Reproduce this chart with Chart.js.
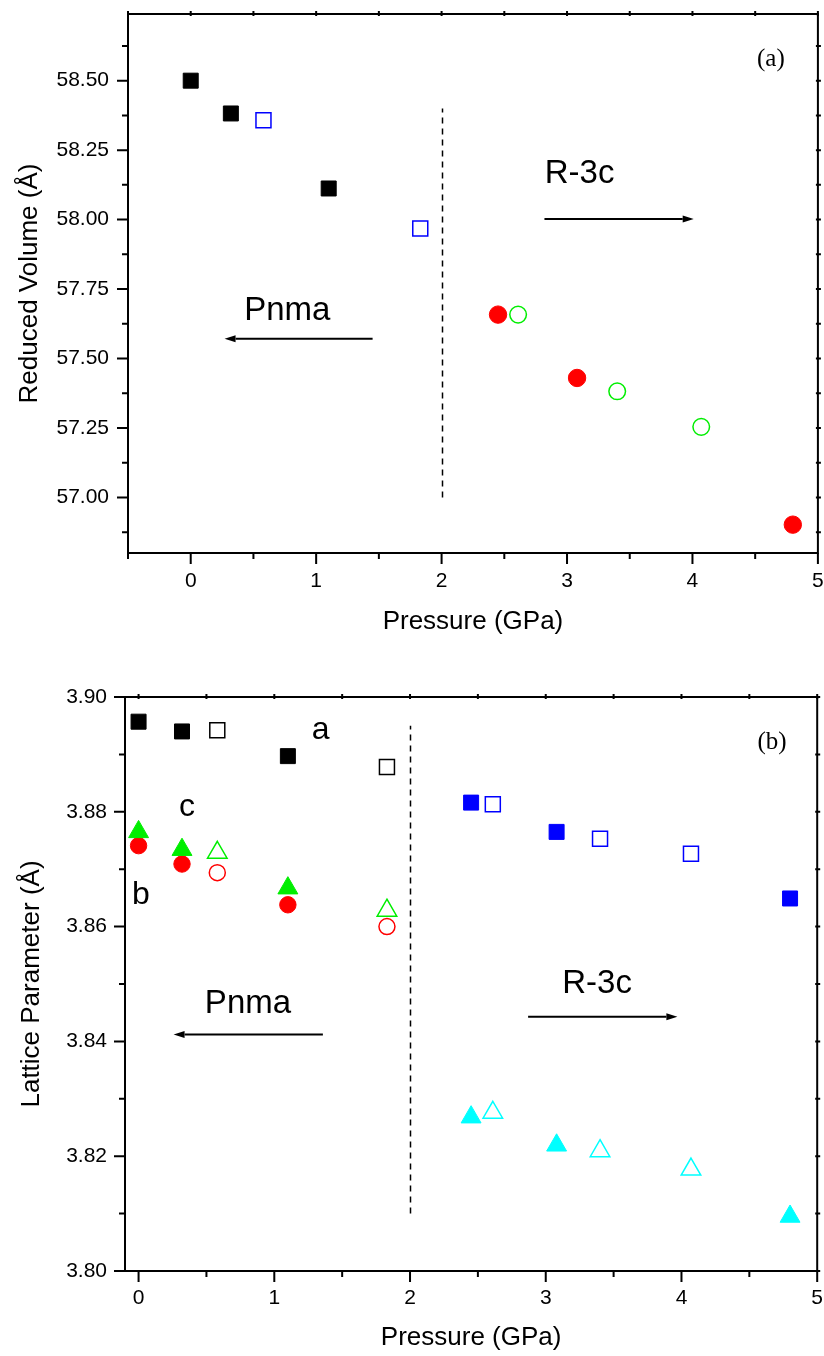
<!DOCTYPE html>
<html>
<head>
<meta charset="utf-8">
<script src="https://cdn.jsdelivr.net/npm/chart.js@4.4.1/dist/chart.umd.min.js"></script>
<style>
  html, body { margin: 0; padding: 0; background: #fff; overflow: hidden; }
  #wrap { position: relative; width: 824px; height: 1356px; overflow: hidden; }
  canvas { position: absolute; left: 0; }
  #chart-a { top: 0; }
  #chart-b { top: 630px; }
</style>
</head>
<body>
<div id="wrap">
  <canvas id="chart-a" width="830" height="650"></canvas>
  <canvas id="chart-b" width="830" height="726"></canvas>
</div>
<script>
(function () {
  "use strict";

  // ─── Data: panel (a) reduced volume ─────────────────────────────────────────

  const A_X_TICKS = [0, 1, 2, 3, 4, 5];
  const A_X_MINOR = [-0.5, 0.5, 1.5, 2.5, 3.5, 4.5];
  const A_Y_TICKS = [57.0, 57.25, 57.5, 57.75, 58.0, 58.25, 58.5];
  const A_Y_MINOR = [56.875, 57.125, 57.375, 57.625, 57.875, 58.125, 58.375, 58.625];

  const A_PNMA_P = [0, 0.32, 1.1];          // filled black squares
  const A_PNMA_V = [58.5, 58.382, 58.112];
  const A_PNMA2_P = [0.58, 1.83];           // open blue squares
  const A_PNMA2_V = [58.358, 57.968];
  const A_R3C_P = [2.45, 3.08, 4.8];        // filled red circles
  const A_R3C_V = [57.658, 57.43, 56.902];
  const A_R3C2_P = [2.61, 3.4, 4.07];       // open green circles
  const A_R3C2_V = [57.658, 57.382, 57.254];

  // ─── Data: panel (b) lattice parameters ─────────────────────────────────────

  const B_X_TICKS = [0, 1, 2, 3, 4, 5];
  const B_X_MINOR = [0.5, 1.5, 2.5, 3.5, 4.5];
  const B_Y_TICKS = [3.8, 3.82, 3.84, 3.86, 3.88, 3.9];
  const B_Y_MINOR = [3.81, 3.83, 3.85, 3.87, 3.89];

  const B_LOW_P = [0, 0.32, 1.1];           // filled symbols, Pnma
  const B_LOW2_P = [0.58, 1.83];            // open symbols, Pnma
  const B_HIGH_P = [2.45, 3.08, 4.8];       // filled symbols, R-3c
  const B_HIGH2_P = [2.61, 3.4, 4.07];      // open symbols, R-3c

  const B_A_FILLED = [3.8957, 3.894, 3.8897];
  const B_A_OPEN = [3.8942, 3.8878];
  const B_C_FILLED = [3.8765, 3.8734, 3.8667];
  const B_C_OPEN = [3.8729, 3.8628];
  const B_B_FILLED = [3.8741, 3.8709, 3.8638];
  const B_B_OPEN = [3.8694, 3.86];
  const B_HEX_A_FILLED = [3.8816, 3.8765, 3.8649];
  const B_HEX_A_OPEN = [3.8813, 3.8753, 3.8727];
  const B_HEX_C_FILLED = [3.8268, 3.8219, 3.8095];
  const B_HEX_C_OPEN = [3.8276, 3.8209, 3.8177];

  // ─── Helpers ────────────────────────────────────────────────────────────────

  const SANS = "'Liberation Sans', Arial, Helvetica, sans-serif";
  const SERIF = "'Liberation Serif', 'Times New Roman', serif";

  function pts(xs, ys) {
    return xs.map((x, i) => ({ x: x, y: ys[i] }));
  }

  function filled(xs, ys, color, style, r) {
    return {
      data: pts(xs, ys),
      pointStyle: style,
      pointRadius: r,
      pointBackgroundColor: color,
      pointBorderColor: color,
      pointBorderWidth: 1,
    };
  }

  function open(xs, ys, color, style, r) {
    return {
      data: pts(xs, ys),
      pointStyle: style,
      pointRadius: r,
      pointBackgroundColor: "rgba(255,255,255,0)",
      pointBorderColor: color,
      pointBorderWidth: 1.5,
    };
  }

  function noEdgePadding(s) {
    s.paddingTop = 0;
    s.paddingBottom = 0;
    s.paddingLeft = 0;
    s.paddingRight = 0;
  }

  function drawArrow(ctx, x0, x1, y) {
    const dir = x1 > x0 ? 1 : -1;
    const head = 11;
    ctx.lineWidth = 2;
    ctx.beginPath();
    ctx.moveTo(x0, y);
    ctx.lineTo(x1 - dir * head, y);
    ctx.stroke();
    ctx.beginPath();
    ctx.moveTo(x1, y);
    ctx.lineTo(x1 - dir * head, y - 3.5);
    ctx.lineTo(x1 - dir * head, y + 3.5);
    ctx.closePath();
    ctx.fill();
  }

  // boundary line, arrows, labels, frame and tick marks
  function makeDecor(spec) {
    return {
      id: "decor",
      beforeDatasetsDraw(chart) {
        const ctx = chart.ctx;
        const xs = chart.scales.x, ys = chart.scales.y;
        ctx.save();
        ctx.strokeStyle = "#000";
        ctx.fillStyle = "#000";
        ctx.lineWidth = 1.5;
        ctx.setLineDash([6, 5]);
        const bx = Math.round(xs.getPixelForValue(spec.boundary.x)) + 0.5;
        ctx.beginPath();
        ctx.moveTo(bx, ys.getPixelForValue(spec.boundary.y0));
        ctx.lineTo(bx, ys.getPixelForValue(spec.boundary.y1));
        ctx.stroke();
        ctx.setLineDash([]);

        spec.arrows.forEach((a) => {
          drawArrow(ctx, xs.getPixelForValue(a.x0), xs.getPixelForValue(a.x1), ys.getPixelForValue(a.y));
        });

        spec.texts.forEach((t) => {
          ctx.font = t.font;
          ctx.textAlign = "center";
          ctx.textBaseline = "alphabetic";
          ctx.fillText(t.text, xs.getPixelForValue(t.x), ys.getPixelForValue(t.y));
        });
        ctx.restore();
      },
      afterDraw(chart) {
        const ctx = chart.ctx;
        const xs = chart.scales.x, ys = chart.scales.y;
        const { left, right, top, bottom } = chart.chartArea;
        ctx.save();
        ctx.strokeStyle = "#000";
        ctx.lineWidth = 2;
        ctx.strokeRect(left, top, right - left, bottom - top);

        ctx.lineWidth = 2;
        ctx.beginPath();
        spec.xMajor.forEach((v) => {
          const p = xs.getPixelForValue(v);
          ctx.moveTo(p, bottom); ctx.lineTo(p, bottom + 11);
          ctx.moveTo(p, top - 3); ctx.lineTo(p, top + 2);
        });
        spec.xMinor.forEach((v) => {
          const p = xs.getPixelForValue(v);
          ctx.moveTo(p, bottom); ctx.lineTo(p, bottom + 6);
          ctx.moveTo(p, top - 3); ctx.lineTo(p, top + 2);
        });
        spec.yMajor.forEach((v) => {
          const p = ys.getPixelForValue(v);
          ctx.moveTo(left, p); ctx.lineTo(left - 11, p);
          ctx.moveTo(right - 2, p); ctx.lineTo(right + 3, p);
        });
        spec.yMinor.forEach((v) => {
          const p = ys.getPixelForValue(v);
          ctx.moveTo(left, p); ctx.lineTo(left - 6, p);
          ctx.moveTo(right - 2, p); ctx.lineTo(right + 3, p);
        });
        ctx.stroke();
        ctx.restore();
      },
    };
  }

  function makeOptions(o) {
    return {
      responsive: false,
      animation: false,
      layout: { padding: o.padding },
      plugins: { legend: { display: false }, tooltip: { enabled: false } },
      scales: {
        x: {
          type: "linear",
          min: o.xMin,
          max: o.xMax,
          grid: { display: false, drawTicks: false },
          border: { display: false },
          afterBuildTicks: (s) => { s.ticks = o.xTicks.map((v) => ({ value: v })); },
          afterFit: (s) => { s.height = o.xAxisHeight; noEdgePadding(s); },
          ticks: {
            color: "#000",
            padding: o.xPad,
            maxRotation: 0,
            font: { family: SANS, size: 21 },
            callback: (v) => String(v),
          },
          title: {
            display: true,
            text: "Pressure (GPa)",
            color: "#000",
            padding: { top: 0, bottom: o.xTitlePad },
            font: { family: SANS, size: 26 },
          },
        },
        y: {
          type: "linear",
          min: o.yMin,
          max: o.yMax,
          grid: { display: false, drawTicks: false },
          border: { display: false },
          afterBuildTicks: (s) => { s.ticks = o.yTicks.map((v) => ({ value: v })); },
          afterFit: (s) => { s.width = o.yAxisWidth; noEdgePadding(s); },
          ticks: {
            color: "#000",
            padding: o.yPad,
            font: { family: SANS, size: 21 },
            callback: (v) => Number(v).toFixed(2),
          },
          title: {
            display: true,
            text: o.yTitle,
            color: "#000",
            padding: { top: o.yTitlePad, bottom: 0 },
            font: { family: SANS, size: 26 },
          },
        },
      },
    };
  }

  // ─── Panel (a) ──────────────────────────────────────────────────────────────

  new Chart(document.getElementById("chart-a"), {
    type: "scatter",
    data: {
      datasets: [
        filled(A_PNMA_P, A_PNMA_V, "#000000", "rect", 10.6),
        open(A_PNMA2_P, A_PNMA2_V, "#0000ff", "rect", 10.6),
        filled(A_R3C_P, A_R3C_V, "#ff0000", "circle", 8.7),
        open(A_R3C2_P, A_R3C2_V, "#00ee00", "circle", 8.3),
      ],
    },
    options: makeOptions({
      padding: { top: 14, right: 1, bottom: 0, left: 0 },
      xMin: -0.5, xMax: 5, yMin: 56.8, yMax: 58.74,
      xTicks: A_X_TICKS, yTicks: A_Y_TICKS,
      xAxisHeight: 97, yAxisWidth: 128,
      xPad: 16, yPad: 19, xTitlePad: 13, yTitlePad: 14,
      yTitle: "Reduced Volume (Å)",
    }),
    plugins: [makeDecor({
      xMajor: A_X_TICKS, xMinor: A_X_MINOR, yMajor: A_Y_TICKS, yMinor: A_Y_MINOR,
      boundary: { x: 2, y0: 57.0, y1: 58.4 },
      arrows: [
        { x0: 1.45, x1: 0.27, y: 57.571 },
        { x0: 2.82, x1: 4.01, y: 58.002 },
      ],
      texts: [
        { text: "Pnma", x: 0.77, y: 57.639, font: "33px " + SANS },
        { text: "R-3c", x: 3.1, y: 58.13, font: "33px " + SANS },
        { text: "(a)", x: 4.625, y: 58.554, font: "25px " + SERIF },
      ],
    })],
  });

  // ─── Panel (b) ──────────────────────────────────────────────────────────────

  new Chart(document.getElementById("chart-b"), {
    type: "scatter",
    data: {
      datasets: [
        filled(B_LOW_P, B_A_FILLED, "#000000", "rect", 10.6),
        open(B_LOW2_P, B_A_OPEN, "#000000", "rect", 10.6),
        filled(B_LOW_P, B_C_FILLED, "#00ee00", "triangle", 11.5),
        open(B_LOW2_P, B_C_OPEN, "#00ee00", "triangle", 11.3),
        filled(B_LOW_P, B_B_FILLED, "#ff0000", "circle", 8.2),
        open(B_LOW2_P, B_B_OPEN, "#ff0000", "circle", 8.0),
        filled(B_HIGH_P, B_HEX_A_FILLED, "#0000ff", "rect", 10.6),
        open(B_HIGH2_P, B_HEX_A_OPEN, "#0000ff", "rect", 10.6),
        filled(B_HIGH_P, B_HEX_C_FILLED, "#00ffff", "triangle", 11.5),
        open(B_HIGH2_P, B_HEX_C_OPEN, "#00ffff", "triangle", 11.3),
      ],
    },
    options: makeOptions({
      padding: { top: 67, right: 2, bottom: 0, left: 0 },
      xMin: -0.1, xMax: 5, yMin: 3.8, yMax: 3.9,
      xTicks: B_X_TICKS, yTicks: B_Y_TICKS,
      xAxisHeight: 85, yAxisWidth: 125,
      xPad: 15, yPad: 18, xTitlePad: 3, yTitlePad: 16,
      yTitle: "Lattice Parameter (Å)",
    }),
    plugins: [makeDecor({
      xMajor: B_X_TICKS, xMinor: B_X_MINOR, yMajor: B_Y_TICKS, yMinor: B_Y_MINOR,
      boundary: { x: 2, y0: 3.81, y1: 3.895 },
      arrows: [
        { x0: 1.358, x1: 0.258, y: 3.8412 },
        { x0: 2.87, x1: 3.97, y: 3.8443 },
      ],
      texts: [
        { text: "Pnma", x: 0.806, y: 3.845, font: "33px " + SANS },
        { text: "R-3c", x: 3.378, y: 3.8484, font: "33px " + SANS },
        { text: "a", x: 1.341, y: 3.8926, font: "32px " + SANS },
        { text: "c", x: 0.357, y: 3.8792, font: "32px " + SANS },
        { text: "b", x: 0.018, y: 3.8639, font: "32px " + SANS },
        { text: "(b)", x: 4.667, y: 3.8909, font: "25px " + SERIF },
      ],
    })],
  });
})();
</script>
</body>
</html>
